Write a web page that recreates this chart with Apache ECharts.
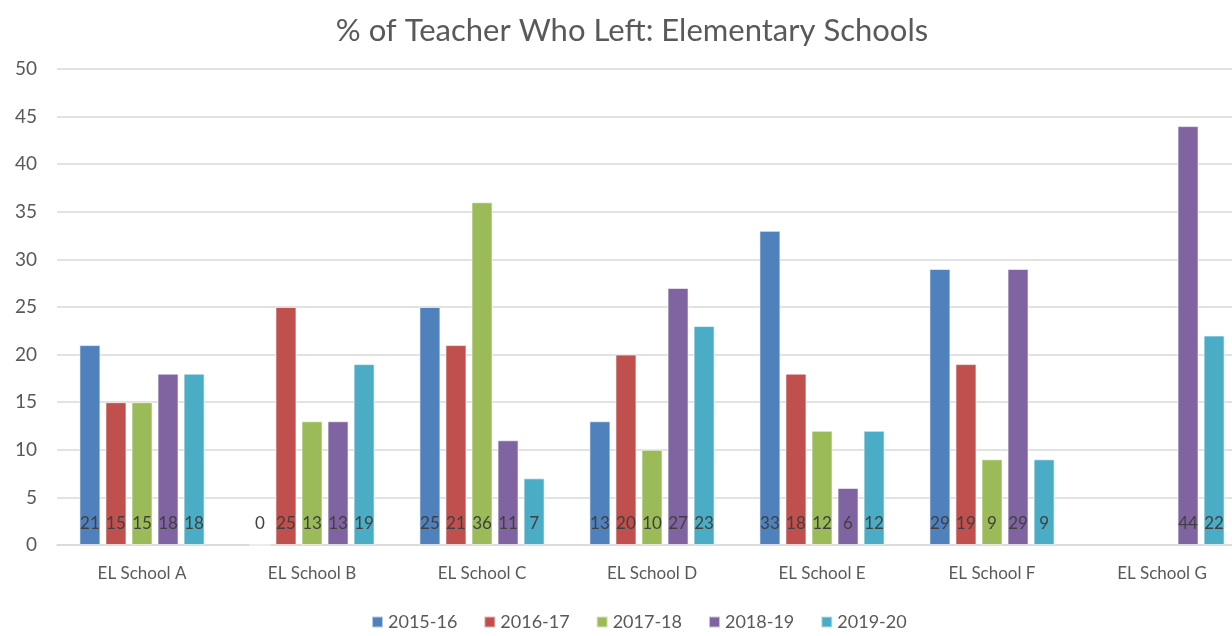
<!DOCTYPE html>
<html>
<head>
<meta charset="utf-8">
<script src="https://cdn.jsdelivr.net/npm/echarts@6/dist/echarts.min.js"></script>
<style>
html, body { margin: 0; padding: 0; background: #fff; overflow: hidden; }
/* the plot runs past the right edge of the window, as in the cropped original */
#main { width: 1247px; height: 636px; }
</style>
</head>
<body>
<div id="main"></div>
<script>
// categories and per-year values (% of teachers who left)
var schools = ['EL School A', 'EL School B', 'EL School C', 'EL School D', 'EL School E', 'EL School F', 'EL School G'];
var years = ['2015-16', '2016-17', '2017-18', '2018-19', '2019-20'];
var y2015 = [21, 0, 25, 13, 33, 29, null];
var y2016 = [15, 25, 21, 20, 18, 19, null];
var y2017 = [15, 13, 36, 10, 12, 9, null];
var y2018 = [18, 13, 11, 27, 6, 29, 44];
var y2019 = [18, 19, 7, 23, 12, 9, 22];
var colors = ['#4F81BD', '#C0504D', '#9BBB59', '#8064A2', '#4BACC6'];

var font = 'Lato, "Open Sans", sans-serif';
var allData = [y2015, y2016, y2017, y2018, y2019];

var series = [];
for (var i = 0; i < years.length; i++) {
  series.push({
    name: years[i],
    type: 'bar',
    data: allData[i],
    barWidth: 21,
    barGap: '24%',
    itemStyle: { color: colors[i], borderColor: 'rgba(255,255,255,0.6)', borderWidth: 1 },
    label: {
      show: true,
      position: 'insideBottom',
      distance: 13,
      color: '#404040',
      fontSize: 17,
      fontFamily: font
    }
  });
}

var myChart = echarts.init(document.getElementById('main'));
var option = {
  animation: false,
  color: colors,
  title: {
    text: '% of Teacher Who Left: Elementary Schools',
    left: 627,
    textAlign: 'center',
    top: 10,
    textStyle: { color: '#595959', fontSize: 31, fontWeight: 'normal', fontFamily: font }
  },
  legend: {
    bottom: 0,
    left: 366,
    itemWidth: 11,
    itemHeight: 11,
    itemGap: 26,
    icon: 'rect',
    textStyle: { color: '#595959', fontSize: 18, fontFamily: font },
    data: years
  },
  grid: { left: 57, right: 0, top: 69, bottom: 91, containLabel: false },
  xAxis: {
    type: 'category',
    data: schools,
    axisLine: { lineStyle: { color: '#d9d9d9', width: 1.5 } },
    axisTick: { show: false },
    axisLabel: { color: '#595959', fontSize: 17, margin: 20, fontFamily: font }
  },
  yAxis: {
    type: 'value',
    min: 0,
    max: 50,
    interval: 5,
    axisLine: { show: false },
    axisTick: { show: false },
    axisLabel: { color: '#595959', fontSize: 19, margin: 20, fontFamily: font },
    splitLine: { lineStyle: { color: '#d9d9d9', width: 1.5 } }
  },
  series: series
};
myChart.setOption(option);
</script>
</body>
</html>
